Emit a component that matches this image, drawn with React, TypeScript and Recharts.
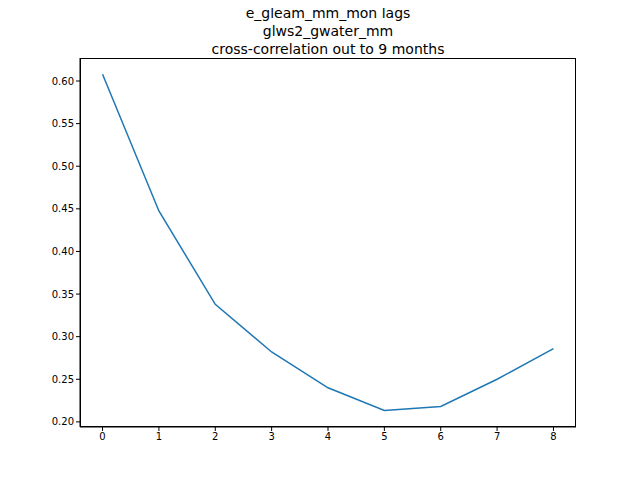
import React from 'react';
import { LineChart, Line, XAxis, YAxis } from 'recharts';

const lags = [0, 1, 2, 3, 4, 5, 6, 7, 8];
const corr = [0.608, 0.4475, 0.338, 0.282, 0.24, 0.2133, 0.218, 0.25, 0.286];
const yTicks = [0.2, 0.25, 0.3, 0.35, 0.4, 0.45, 0.5, 0.55, 0.6];
const titleLines = ['e_gleam_mm_mon lags', 'glws2_gwater_mm', 'cross-correlation out to 9 months'];

const data = lags.map((lag, i) => ({ lag, corr: corr[i] }));

const font = 'DejaVu Sans, sans-serif';
const tickStyle = { fill: '#000', fontSize: 10, fontFamily: font };

export default function App() {
  return (
    <div style={{ position: 'relative', width: 640, height: 480, margin: -8, background: '#fff' }}>
      <LineChart width={640} height={480} data={data} margin={{ top: 58, left: 30, right: 64, bottom: 23 }}>
        <XAxis
          dataKey="lag"
          type="number"
          domain={[-0.4, 8.4]}
          ticks={lags}
          height={30}
          tick={tickStyle}
          tickSize={4}
          axisLine={{ stroke: '#000' }}
          tickLine={{ stroke: '#000' }}
        />
        <YAxis
          type="number"
          domain={[0.194, 0.627]}
          ticks={yTicks}
          tickFormatter={(v: number) => v.toFixed(2)}
          width={50}
          tick={tickStyle}
          tickSize={4}
          axisLine={{ stroke: '#000' }}
          tickLine={{ stroke: '#000' }}
        />
        <Line dataKey="corr" stroke="#1f77b4" strokeWidth={1.5} dot={false} isAnimationActive={false} />
      </LineChart>
      <div
        style={{
          position: 'absolute',
          left: 28,
          width: 600,
          top: 4,
          textAlign: 'center',
          fontFamily: font,
          fontSize: 14,
          lineHeight: '18px',
        }}
      >
        {titleLines.map((t) => (
          <div key={t}>{t}</div>
        ))}
      </div>
      <div
        style={{
          position: 'absolute',
          left: 80,
          top: 58,
          width: 496,
          height: 369,
          border: '1px solid #000',
          boxSizing: 'border-box',
          pointerEvents: 'none',
        }}
      />
    </div>
  );
}
